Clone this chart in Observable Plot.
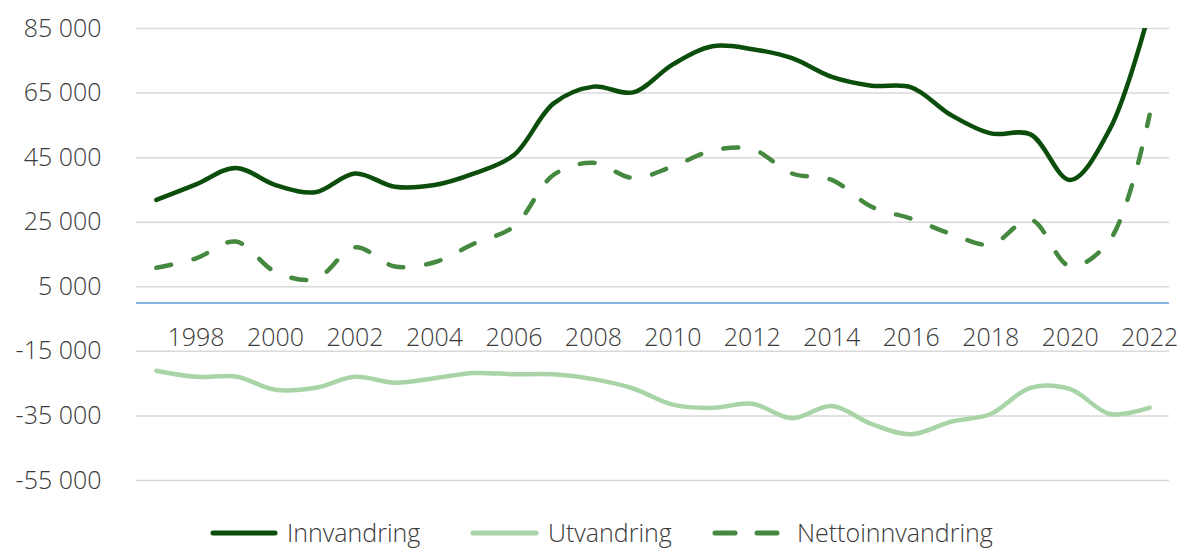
<!DOCTYPE html>
<html>
<head>
<meta charset="utf-8">
<script src="https://cdn.jsdelivr.net/npm/d3@7"></script>
<script src="https://cdn.jsdelivr.net/npm/@observablehq/plot@0.6"></script>
<style>
  body { margin: 0; background: #fff; font-family: "Open Sans", Lato, sans-serif; }
  #wrap { position: relative; width: 1181px; height: 548px; }
  #legend { position: absolute; left: 0; top: 516px; width: 1181px; height: 32px; }
  .item { position: absolute; top: 0; height: 32px; display: flex; align-items: center; }
  .item span { font-size: 25px; font-weight: 300; color: #3a3a3a; }
</style>
</head>
<body>
<div id="wrap">
  <div id="chart"></div>
  <div id="legend"></div>
</div>
<script>
const years = [1997,1998,1999,2000,2001,2002,2003,2004,2005,2006,2007,2008,2009,2010,2011,2012,2013,2014,2015,2016,2017,2018,2019,2020,2021,2022];
const innvandring = [31900,36700,41800,36500,34300,40100,36000,36500,40100,45800,61800,67000,65200,73900,79500,78600,75800,70000,67300,66800,58200,52500,52200,38100,53900,90500];
const utvandring = [-21000,-22900,-22800,-26900,-26300,-22900,-24700,-23300,-21700,-22100,-22100,-23600,-26500,-31500,-32500,-31200,-35700,-31900,-37500,-40700,-36800,-34400,-26300,-26700,-34400,-32400];
const netto = [10900,13800,19000,9600,7400,17200,11300,12600,18400,23700,39700,43400,38700,42300,47200,47600,40100,38100,29800,26100,21400,18100,25800,11400,19500,58300];
const seriesNames = ["Innvandring","Utvandring","Nettoinnvandring"];
const colors = ["#0b4d0b","#a8d4a8","#45883f"];
const yTicks = [85000,65000,45000,25000,5000,-15000,-35000,-55000];
const xLabels = [1998,2000,2002,2004,2006,2008,2010,2012,2014,2016,2018,2020,2022];

const fmt = d3.formatLocale({thousands:" ", grouping:[3], decimal:",", currency:["",""], minus:"-"}).format(",");

const rows = [];
[innvandring, utvandring, netto].forEach((arr, i) => {
  arr.forEach((v, j) => rows.push({year: years[j], value: v, series: seriesNames[i]}));
});

const chart = Plot.plot({
  width: 1181,
  height: 510,
  marginLeft: 136,
  marginRight: 12,
  marginTop: 28,
  marginBottom: 30,
  style: {fontFamily: "'Open Sans', Lato, sans-serif", fontSize: "25px", fontWeight: 300, color: "#3a3a3a", background: "#fff"},
  x: {type: "point", domain: years, padding: 0.5, round: false, axis: null},
  y: {domain: [-55000, 85000], axis: null},
  marks: [
    Plot.gridY(yTicks, {stroke: "#d9d9d9", strokeOpacity: 1, strokeWidth: 1.5}),
    Plot.axisY(yTicks, {tickSize: 0, tickPadding: 35, tickFormat: fmt, fill: "#3a3a3a", fontSize: 25, fontWeight: 300, label: null}),
    Plot.ruleY([0], {stroke: "#5b9bd5", strokeWidth: 1.5}),
    Plot.text(xLabels, {x: d => d, y: 0, dy: 35, text: d => String(d), fill: "#3a3a3a", fontSize: 25, fontWeight: 300}),
    Plot.line(rows.filter(d => d.series === "Utvandring"), {x: "year", y: "value", stroke: colors[1], strokeWidth: 4.5, curve: "catmull-rom", strokeLinecap: "round", clip: true}),
    Plot.line(rows.filter(d => d.series === "Nettoinnvandring"), {x: "year", y: "value", stroke: colors[2], strokeWidth: 4.5, curve: "catmull-rom", strokeLinecap: "round", strokeDasharray: "15 23", clip: true}),
    Plot.line(rows.filter(d => d.series === "Innvandring"), {x: "year", y: "value", stroke: colors[0], strokeWidth: 4.5, curve: "catmull-rom", strokeLinecap: "round", clip: true})
  ]
});
document.getElementById("chart").appendChild(chart);

// Legend
const legendPos = [{sx: 210, tx: 287}, {sx: 470, tx: 548}, {sx: 712, tx: 797}];
const legend = document.getElementById("legend");
seriesNames.forEach((name, i) => {
  const item = document.createElement("div");
  item.className = "item";
  item.style.left = legendPos[i].sx + "px";
  const w = legendPos[i].tx - legendPos[i].sx;
  const dash = i === 2 ? 'stroke-dasharray="20 22"' : "";
  item.innerHTML = `<svg width="${w}" height="32"><line x1="3" x2="${w - 12}" y1="17" y2="17" stroke="${colors[i]}" stroke-width="5" stroke-linecap="round" ${dash}></line></svg><span>${name}</span>`;
  legend.appendChild(item);
});
</script>
</body>
</html>
